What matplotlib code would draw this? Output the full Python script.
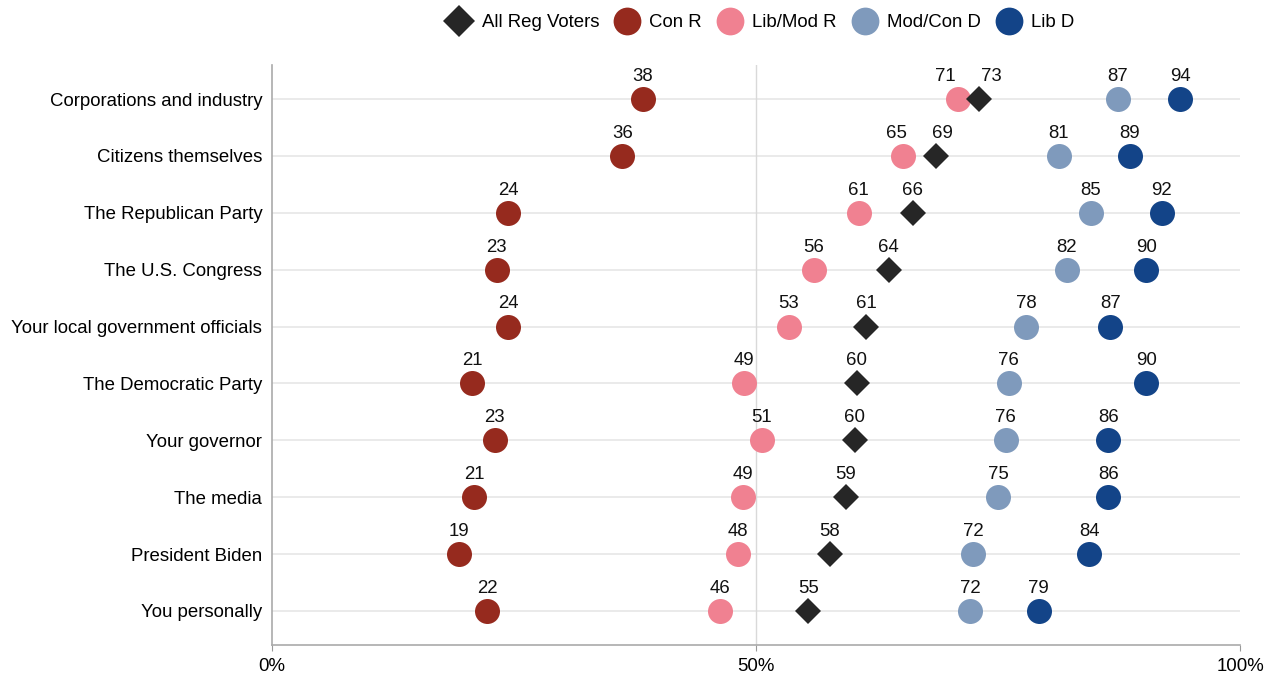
import matplotlib.pyplot as plt
from matplotlib.lines import Line2D

plt.rcParams['font.family'] = ['Liberation Sans', 'DejaVu Sans']

categories = [
    "Corporations and industry",
    "Citizens themselves",
    "The Republican Party",
    "The U.S. Congress",
    "Your local government officials",
    "The Democratic Party",
    "Your governor",
    "The media",
    "President Biden",
    "You personally",
]

all_reg = [73.0, 68.6, 66.2, 63.7, 61.4, 60.4, 60.2, 59.3, 57.6, 55.4]
con_r = [38.3, 36.2, 24.4, 23.2, 24.4, 20.7, 23.0, 20.9, 19.3, 22.2]
lib_mod_r = [70.9, 65.2, 60.6, 56.0, 53.4, 48.8, 50.6, 48.7, 48.1, 46.3]
mod_con_d = [87.4, 81.3, 84.6, 82.1, 77.9, 76.1, 75.8, 75.0, 72.4, 72.1]
lib_d = [93.8, 88.6, 91.9, 90.3, 86.6, 90.3, 86.4, 86.4, 84.4, 79.2]

series = [
    ("All Reg Voters", all_reg, "#262626", "D", 13),
    ("Con R", con_r, "#962a1e", "o", 18),
    ("Lib/Mod R", lib_mod_r, "#f08191", "o", 18),
    ("Mod/Con D", mod_con_d, "#7f9abc", "o", 18),
    ("Lib D", lib_d, "#134488", "o", 18),
]

fs = 13.4

fig = plt.figure(figsize=(12.67, 6.75), dpi=100)
ax = fig.add_axes([0.2147, 0.0444, 0.764, 0.8593])

ys = list(range(len(categories)))
for y in ys:
    ax.axhline(y, color="#e6e6e6", lw=1.2, zorder=0)
ax.axvline(50, color="#d9d9d9", lw=1, zorder=0)

# circles first, diamonds on top
for name, vals, color, marker, ms in series[1:] + series[:1]:
    ax.plot(vals, ys, ls="none", marker=marker, ms=ms, color=color,
            markeredgewidth=0, zorder=3)

# labels above markers, nudge apart when too close
for i, y in enumerate(ys):
    pts = sorted([s[1][i] for s in series])
    xs = list(pts)
    for k in range(1, len(xs)):
        if xs[k] - xs[k - 1] < 4.5:
            mid = (pts[k] + pts[k - 1]) / 2
            xs[k - 1] = mid - 2.4
            xs[k] = mid + 2.4
    for v, xl in zip(pts, xs):
        ax.text(xl, y - 0.25, f"{v:.0f}", ha="center", va="bottom",
                fontsize=fs, color="#111111")

ax.set_xlim(0, 100)
ax.set_ylim(len(categories) - 0.4, -0.6)
ax.set_xticks([0, 50, 100])
ax.set_xticklabels(["0%", "50%", "100%"], fontsize=fs)
ax.set_yticks(ys)
ax.set_yticklabels(categories, fontsize=fs)
ax.tick_params(axis="y", length=0, pad=7)
ax.tick_params(axis="x", length=4, color="#999999", pad=5)
for side in ["top", "right"]:
    ax.spines[side].set_visible(False)
for side in ["left", "bottom"]:
    ax.spines[side].set_color("#aaaaaa")
    ax.spines[side].set_linewidth(1.2)

handles = [Line2D([], [], ls="none", marker=m, ms=ms + 3 if m == "D" else ms + 2,
                  color=c, markeredgewidth=0)
           for _, _, c, m, ms in series]
fig.legend(handles, [s[0] for s in series], loc="center", ncol=5,
           bbox_to_anchor=(0.6, 0.966), frameon=False, fontsize=fs,
           handletextpad=0.5, columnspacing=0.8, handlelength=1.4)

fig.savefig("out.png", dpi=100)
